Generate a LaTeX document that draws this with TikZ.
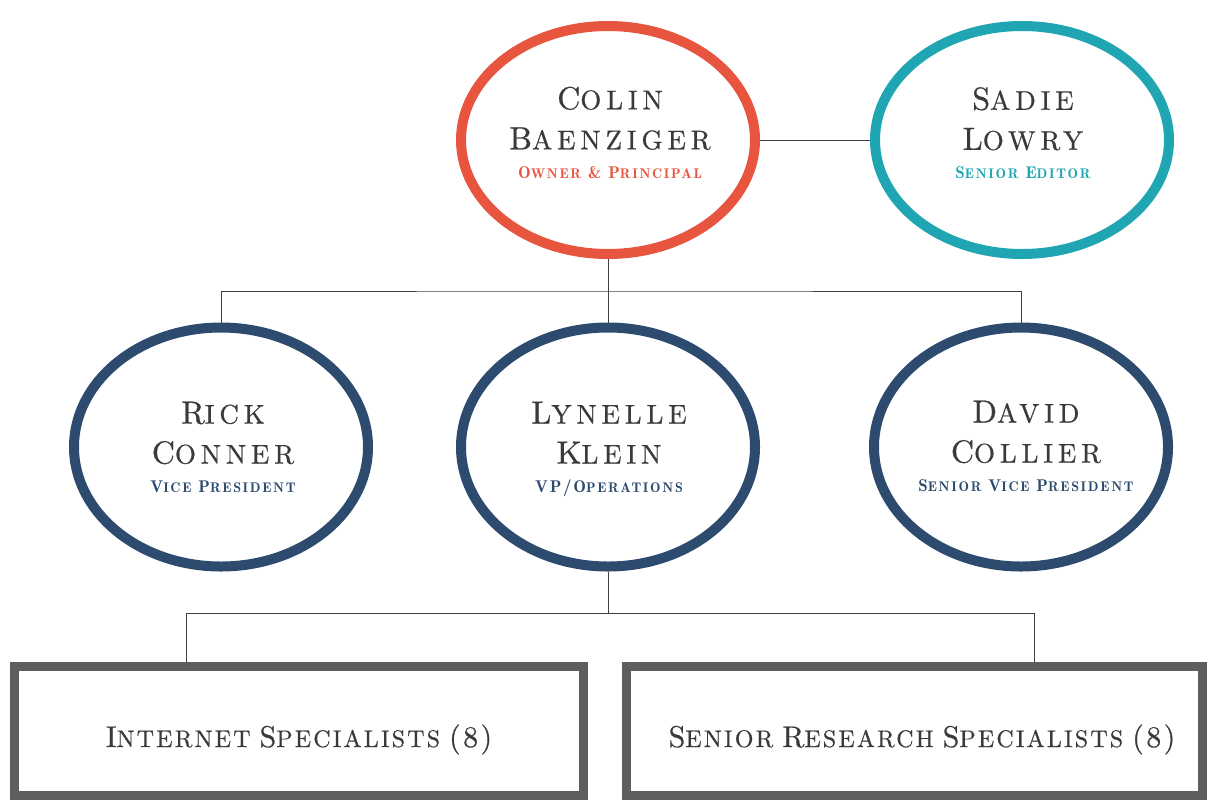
\documentclass[tikz,border=0pt]{standalone}
\usepackage{fontspec}
\usetikzlibrary{shapes.geometric}
\newfontfamily\lmx{lmroman10-regular.otf}
\newfontfamily\lmd{lmromandemi10-regular.otf}
\definecolor{cred}{HTML}{E8553F}
\definecolor{cteal}{HTML}{1FA6B2}
\definecolor{cnavy}{HTML}{2D4B6E}
\definecolor{cbox}{HTML}{5E5E5E}
\definecolor{ctext}{HTML}{3A3A3A}
\newcommand{\NA}[2]{{\fontsize{32}{40}\selectfont\addfontfeatures{LetterSpace=14,FakeBold=0.6}#1}{\fontsize{27}{40}\selectfont\addfontfeatures{LetterSpace=18,FakeBold=0.6}#2}}
\newcommand{\RO}[2]{{\fontsize{17}{40}\selectfont\addfontfeatures{LetterSpace=10}#1}{\fontsize{14}{40}\selectfont\addfontfeatures{LetterSpace=12}#2}}
\newcommand{\BX}[2]{{\fontsize{30}{30}\selectfont\addfontfeatures{LetterSpace=8,FakeBold=0.5}#1}{\fontsize{24}{30}\selectfont\addfontfeatures{LetterSpace=9,FakeBold=0.5}#2}}
\newcommand{\ws}{\hspace{7pt}}
\newcommand{\sub}[2]{\\[-11pt]{\lmd\color{#1}#2}}
\tikzset{
  person/.style={ellipse, draw=#1, line width=10pt, fill=white, inner sep=0pt,
    minimum width=294pt, minimum height=228pt},
  ptext/.style={anchor=north, inner sep=0pt, align=center, text=ctext,
    font={\lmx\fontsize{27}{40}\selectfont}},
  teambox/.style={rectangle, draw=cbox, line width=9pt, fill=white, inner sep=0pt,
    minimum height=129pt},
  btext/.style={anchor=base, inner sep=0pt, text=ctext, font={\lmx\fontsize{24}{30}\selectfont}},
  link/.style={draw=black!75, line width=1pt}
}
\begin{document}
\begin{tikzpicture}[x=1pt,y=-1pt]
\useasboundingbox (0,0) rectangle (1212,807);
\coordinate (j1) at (608,291);
\coordinate (j2) at (608,613);
\node[person=cred] (colin) at (608,140) {};
\node[person=cteal] (sadie) at (1022,140) {};
\node[person=cnavy, minimum height=239pt] (rick) at (221,447) {};
\node[person=cnavy, minimum height=239pt] (lynelle) at (608,447) {};
\node[person=cnavy, minimum height=239pt] (david) at (1021,447) {};
\node[ptext] (colin-t) at (610,86.5) {\NA{C}{OLIN}\\\NA{B}{AENZIGER}\sub{cred}{\RO{O}{WNER}\ws\RO{\&}{}\ws\RO{P}{RINCIPAL}}};
\node[ptext] (sadie-t) at (1023,87) {\NA{S}{ADIE}\\\NA{L}{OWRY}\sub{cteal}{\RO{S}{ENIOR}\ws\RO{E}{DITOR}}};
\node[ptext] (rick-t) at (223,401.5) {\NA{R}{ICK}\\\NA{C}{ONNER}\sub{cnavy}{\RO{V}{ICE}\ws\RO{P}{RESIDENT}}};
\node[ptext] (lynelle-t) at (609,401.5) {\NA{L}{YNELLE}\\\NA{K}{LEIN}\sub{cnavy}{\RO{VP/O}{PERATIONS}}};
\node[ptext] (david-t) at (1026,400.5) {\NA{D}{AVID}\\\NA{C}{OLLIER}\sub{cnavy}{\RO{S}{ENIOR}\ws\RO{V}{ICE}\ws\RO{P}{RESIDENT}}};
\node[teambox, minimum width=569pt] (internet) at (299,731) {};
\node[teambox, minimum width=576pt] (senior) at (914.5,731) {};
\node[btext] (internet-t) at (299,747) {\BX{I}{NTERNET}\hspace{9pt}\BX{S}{PECIALISTS}\hspace{9pt}\BX{(8)}{}};
\node[btext] (senior-t) at (922,747) {\BX{S}{ENIOR}\hspace{9pt}\BX{R}{ESEARCH}\hspace{9pt}\BX{S}{PECIALISTS}\hspace{9pt}\BX{(8)}{}};
\draw[link] (colin.east) -- (sadie.west);
\draw[link] (colin.south) -- (j1);
\draw[link] (j1) -- (lynelle.north);
\draw[link] (rick.north) |- (j1) -| (david.north);
\draw[link] (lynelle.south) -- (j2);
\draw[link] (internet.north -| 186,0) |- (j2) -| (senior.north -| 1034,0);
\end{tikzpicture}
\end{document}
